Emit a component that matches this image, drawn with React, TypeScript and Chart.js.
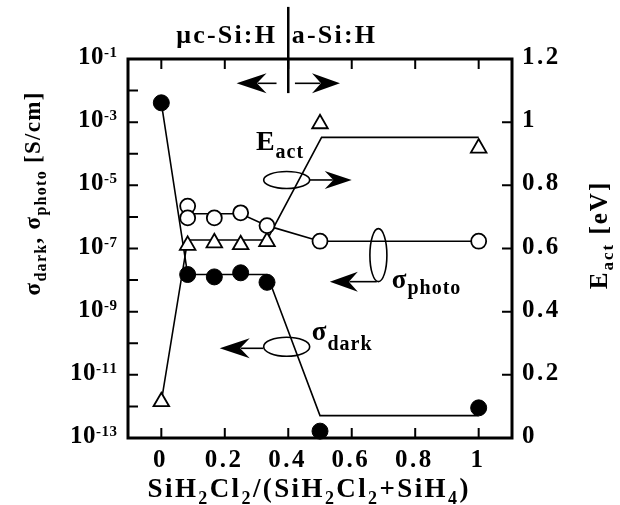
import React, { useEffect, useRef } from 'react';
import { Chart, registerables } from 'chart.js';

Chart.register(...registerables);

// ---------- data ----------
const xTickValues = [0, 0.2, 0.4, 0.6, 0.8, 1];
const xTickLabels = ['0', '0.2', '0.4', '0.6', '0.8', '1'];
const leftTickExponents = [-1, -2, -3, -4, -5, -6, -7, -8, -9, -10, -11, -12, -13];
const leftLabelExponents = [-1, -3, -5, -7, -9, -11, -13];
const rightTickValues = [0, 0.2, 0.4, 0.6, 0.8, 1, 1.2];
const rightTickLabels = ['0', '0.2', '0.4', '0.6', '0.8', '1', '1.2'];

// measured points
const darkX = [0, 0.083, 0.167, 0.25, 0.333, 0.5, 1];
const darkSigma = [4.1e-3, 1.5e-8, 1.26e-8, 1.7e-8, 8.5e-9, 1.65e-13, 9e-13];
const photoX = [0.083, 0.083, 0.167, 0.25, 0.333, 0.5, 1];
const photoSigma = [2.2e-6, 9.3e-7, 9.3e-7, 1.35e-6, 5.3e-7, 1.7e-7, 1.7e-7];
const eactX = [0, 0.083, 0.167, 0.25, 0.333, 0.5, 1];
const eactValues = [0.115, 0.61, 0.618, 0.612, 0.622, 0.995, 0.918];

// hand-drawn guide lines
const darkGuideX = [0, 0.083, 0.333, 0.5, 1];
const darkGuideY = [4.1e-3, 1.5e-8, 1.5e-8, 5.1e-13, 5.1e-13];
const photoGuideX = [0.083, 0.25, 0.333, 0.5, 1];
const photoGuideY = [1.26e-6, 1.26e-6, 5.3e-7, 1.7e-7, 1.7e-7];
const eactGuideX = [0, 0.083, 0.333, 0.505, 1];
const eactGuideY = [0.115, 0.627, 0.627, 0.952, 0.952];

const FONT = '"Liberation Serif", "Times New Roman", serif';

type Run = { t: string; size: number; dy?: number };

function runsWidth(ctx: CanvasRenderingContext2D, runs: Run[], sp: number) {
  let w = 0;
  let n = 0;
  for (const r of runs) {
    ctx.font = `bold ${r.size}px ${FONT}`;
    for (const ch of r.t) {
      w += ctx.measureText(ch).width;
      n++;
    }
  }
  return w + sp * Math.max(0, n - 1);
}

function drawRuns(
  ctx: CanvasRenderingContext2D,
  x: number,
  y: number,
  runs: Run[],
  sp: number,
  align: 'left' | 'center' | 'right'
) {
  const w = runsWidth(ctx, runs, sp);
  let cx = align === 'left' ? x : align === 'center' ? x - w / 2 : x - w;
  ctx.textAlign = 'left';
  ctx.textBaseline = 'alphabetic';
  ctx.fillStyle = '#000';
  for (const r of runs) {
    ctx.font = `bold ${r.size}px ${FONT}`;
    for (const ch of r.t) {
      ctx.fillText(ch, cx, y + (r.dy || 0));
      cx += ctx.measureText(ch).width + sp;
    }
  }
}

function arrow(ctx: CanvasRenderingContext2D, x0: number, y: number, x1: number, headLen: number, halfH: number) {
  const dir = Math.sign(x1 - x0);
  ctx.beginPath();
  ctx.moveTo(x0, y);
  ctx.lineTo(x1 - dir * headLen * 0.7, y);
  ctx.stroke();
  ctx.beginPath();
  ctx.moveTo(x1, y);
  ctx.lineTo(x1 - dir * headLen, y - halfH);
  ctx.lineTo(x1 - dir * headLen * 0.68, y);
  ctx.lineTo(x1 - dir * headLen, y + halfH);
  ctx.closePath();
  ctx.fill();
}

function ellipse(ctx: CanvasRenderingContext2D, cx: number, cy: number, rx: number, ry: number) {
  ctx.beginPath();
  ctx.ellipse(cx, cy, rx, ry, 0, 0, Math.PI * 2);
  ctx.stroke();
}

const decorPlugin = {
  id: 'decor',
  afterDraw(chart: any) {
    const ctx: CanvasRenderingContext2D = chart.ctx;
    const a = chart.chartArea;
    const xs = chart.scales.x;
    const ys = chart.scales.y;
    const y2 = chart.scales.y2;
    const X = (v: number) => xs.getPixelForValue(v);
    const E = (v: number) => y2.getPixelForValue(v);
    ctx.save();
    ctx.strokeStyle = '#000';
    ctx.fillStyle = '#000';

    // inner tick marks
    ctx.lineWidth = 2;
    const tl = 10;
    ctx.beginPath();
    for (const e of leftTickExponents) {
      const y = ys.getPixelForValue(Math.pow(10, e));
      ctx.moveTo(a.left, y);
      ctx.lineTo(a.left + tl, y);
    }
    for (const v of rightTickValues) {
      const y = y2.getPixelForValue(v);
      ctx.moveTo(a.right, y);
      ctx.lineTo(a.right - tl, y);
    }
    for (const v of xTickValues) {
      const x = X(v);
      ctx.moveTo(x, a.bottom);
      ctx.lineTo(x, a.bottom - tl);
      ctx.moveTo(x, a.top);
      ctx.lineTo(x, a.top + tl);
    }
    ctx.stroke();

    // frame
    ctx.lineWidth = 3;
    ctx.strokeRect(a.left, a.top, a.right - a.left, a.bottom - a.top);

    // tick labels
    xTickValues.forEach((v, i) => {
      drawRuns(ctx, X(v) - 2, a.bottom + 29, [{ t: xTickLabels[i], size: 25 }], 2.5, 'center');
    });
    rightTickValues.forEach((v, i) => {
      drawRuns(ctx, a.right + 10, y2.getPixelForValue(v) + 5, [{ t: rightTickLabels[i], size: 25 }], 2.5, 'left');
    });
    leftLabelExponents.forEach((e) => {
      const y = ys.getPixelForValue(Math.pow(10, e));
      drawRuns(
        ctx,
        a.left - 11,
        y + 5,
        [
          { t: '10', size: 25 },
          { t: String(e), size: 15, dy: -7 },
        ],
        0.5,
        'right'
      );
    });

    // axis titles
    drawRuns(
      ctx,
      308,
      497,
      [
        { t: 'SiH', size: 27 },
        { t: '2', size: 18, dy: 7 },
        { t: 'Cl', size: 27 },
        { t: '2', size: 18, dy: 7 },
        { t: '/(SiH', size: 27 },
        { t: '2', size: 18, dy: 7 },
        { t: 'Cl', size: 27 },
        { t: '2', size: 18, dy: 7 },
        { t: '+SiH', size: 27 },
        { t: '4', size: 18, dy: 7 },
        { t: ')', size: 27 },
      ],
      2.4,
      'center'
    );

    ctx.save();
    ctx.translate(40, 194);
    ctx.rotate(-Math.PI / 2);
    drawRuns(
      ctx,
      0,
      0,
      [
        { t: 'σ', size: 23 },
        { t: 'dark', size: 16, dy: 6 },
        { t: ', ', size: 23 },
        { t: 'σ', size: 23 },
        { t: 'photo', size: 16, dy: 6 },
        { t: ' [S/cm]', size: 23 },
      ],
      1.3,
      'center'
    );
    ctx.restore();

    ctx.save();
    ctx.translate(607, 236);
    ctx.rotate(-Math.PI / 2);
    drawRuns(
      ctx,
      0,
      0,
      [
        { t: 'E', size: 25 },
        { t: 'act', size: 17, dy: 6 },
        { t: ' [eV]', size: 25 },
      ],
      2,
      'center'
    );
    ctx.restore();

    // top annotation: phase boundary
    ctx.lineWidth = 2.5;
    ctx.beginPath();
    ctx.moveTo(X(0.4), E(1.365));
    ctx.lineTo(X(0.4), E(1.092));
    ctx.stroke();
    drawRuns(ctx, X(0.358), E(1.251), [{ t: 'μc-Si:H', size: 26 }], 2.2, 'right');
    drawRuns(ctx, X(0.411), E(1.251), [{ t: 'a-Si:H', size: 26 }], 2.2, 'left');
    ctx.lineWidth = 1.6;
    arrow(ctx, X(0.363), E(1.123), X(0.237), 30, 10);
    arrow(ctx, X(0.421), E(1.123), X(0.563), 28, 10);

    // E_act annotation
    drawRuns(
      ctx,
      X(0.298),
      E(0.912),
      [
        { t: 'E', size: 28 },
        { t: 'act', size: 20, dy: 8 },
      ],
      1,
      'left'
    );
    ctx.lineWidth = 1.6;
    ellipse(ctx, X(0.395), E(0.817), 23, 8.5);
    arrow(ctx, X(0.468), E(0.817), X(0.6), 27, 9);

    // sigma_photo annotation
    ellipse(ctx, X(0.684), E(0.579), 8.5, 26.5);
    arrow(ctx, X(0.679), E(0.495), X(0.531), 28, 10);
    drawRuns(
      ctx,
      X(0.726),
      E(0.475),
      [
        { t: 'σ', size: 27 },
        { t: 'photo', size: 20, dy: 6 },
      ],
      1,
      'left'
    );

    // sigma_dark annotation
    ellipse(ctx, X(0.395), E(0.289), 23, 9.5);
    arrow(ctx, X(0.321), E(0.284), X(0.184), 30, 10);
    drawRuns(
      ctx,
      X(0.474),
      E(0.31),
      [
        { t: 'σ', size: 27 },
        { t: 'dark', size: 20, dy: 10 },
      ],
      1,
      'left'
    );

    ctx.restore();
  },
};

const pts = (xs: number[], ys: number[]) => xs.map((x, i) => ({ x, y: ys[i] }));

export default function App() {
  const ref = useRef<HTMLCanvasElement | null>(null);

  useEffect(() => {
    if (!ref.current) return;
    const hidden = { display: false };
    const chart = new Chart(ref.current, {
      type: 'scatter',
      data: {
        datasets: [
          {
            label: 'σdark',
            data: pts(darkX, darkSigma),
            yAxisID: 'y',
            showLine: false,
            pointStyle: 'circle',
            pointRadius: 8,
            pointBackgroundColor: '#000',
            pointBorderColor: '#000',
            pointBorderWidth: 1,
            clip: false,
            order: 0,
          } as any,
          {
            label: 'σphoto',
            data: pts(photoX, photoSigma),
            yAxisID: 'y',
            showLine: false,
            pointStyle: 'circle',
            pointRadius: 7.5,
            pointBackgroundColor: '#fff',
            pointBorderColor: '#000',
            pointBorderWidth: 1.8,
            clip: false,
            order: 0,
          } as any,
          {
            label: 'Eact',
            data: pts(eactX, eactValues),
            yAxisID: 'y2',
            showLine: false,
            pointStyle: 'triangle',
            pointRadius: 9,
            pointBackgroundColor: '#fff',
            pointBorderColor: '#000',
            pointBorderWidth: 1.8,
            clip: false,
            order: 0,
          } as any,
          {
            label: 'dark guide',
            data: pts(darkGuideX, darkGuideY),
            yAxisID: 'y',
            showLine: true,
            pointRadius: 0,
            borderColor: '#000',
            borderWidth: 1.6,
            order: 1,
          } as any,
          {
            label: 'photo guide',
            data: pts(photoGuideX, photoGuideY),
            yAxisID: 'y',
            showLine: true,
            pointRadius: 0,
            borderColor: '#000',
            borderWidth: 1.6,
            order: 1,
          } as any,
          {
            label: 'Eact guide',
            data: pts(eactGuideX, eactGuideY),
            yAxisID: 'y2',
            showLine: true,
            pointRadius: 0,
            borderColor: '#000',
            borderWidth: 1.6,
            order: 1,
          } as any,
        ],
      },
      options: {
        animation: false,
        responsive: false,
        events: [],
        layout: { padding: { top: 59, left: 0, right: 0, bottom: 0 } },
        plugins: { legend: hidden, tooltip: { enabled: false }, title: hidden },
        scales: {
          x: {
            type: 'linear',
            position: 'bottom',
            min: -0.105,
            max: 1.105,
            ticks: { display: false },
            grid: { display: false },
            border: { display: false },
            afterFit: (s: any) => {
              s.height = 67;
            },
          },
          y: {
            type: 'logarithmic',
            position: 'left',
            min: 1e-13,
            max: 1e-1,
            ticks: { display: false },
            grid: { display: false },
            border: { display: false },
            afterFit: (s: any) => {
              s.width = 128;
            },
          },
          y2: {
            type: 'linear',
            position: 'right',
            min: 0,
            max: 1.2,
            ticks: { display: false },
            grid: { display: false },
            border: { display: false },
            afterFit: (s: any) => {
              s.width = 108;
            },
          },
        },
      } as any,
      plugins: [decorPlugin],
    });
    return () => chart.destroy();
  }, []);

  return (
    <div style={{ position: 'fixed', left: 0, top: 0, width: 620, height: 505, background: '#fff' }}>
      <canvas ref={ref} width={620} height={505} style={{ display: 'block' }} />
    </div>
  );
}
